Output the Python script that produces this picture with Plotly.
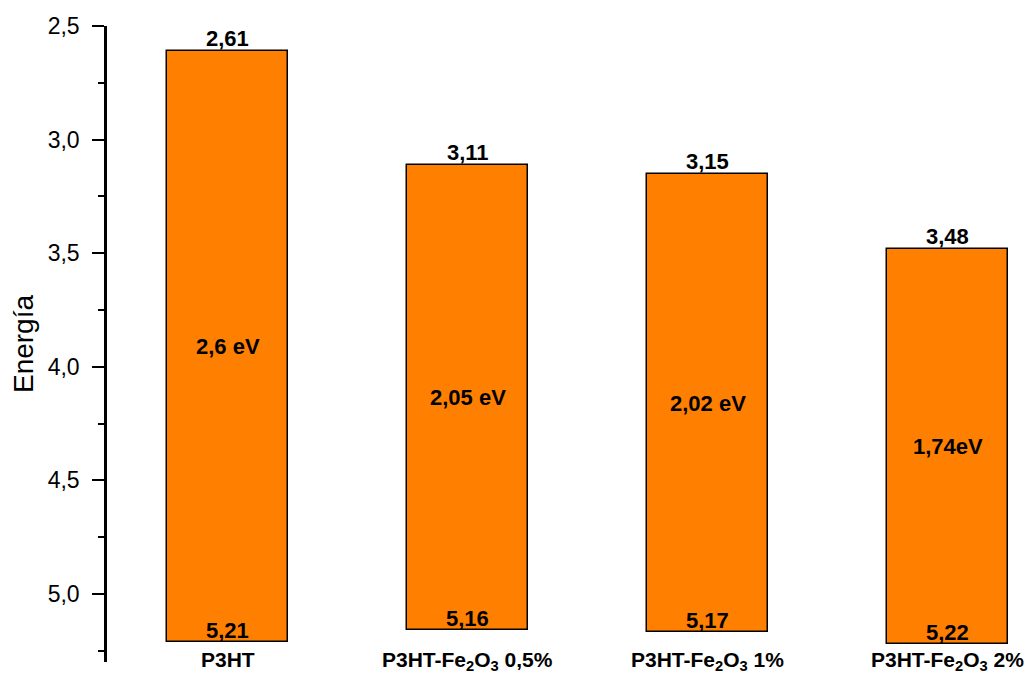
import plotly.graph_objects as go

categories = ["<b>P3HT</b>",
              "<b>P3HT-Fe<sub>2</sub>O<sub>3</sub> 0,5%</b>",
              "<b>P3HT-Fe<sub>2</sub>O<sub>3</sub> 1%</b>",
              "<b>P3HT-Fe<sub>2</sub>O<sub>3</sub> 2%</b>"]
lumo = [2.61, 3.11, 3.15, 3.48]
homo = [5.21, 5.16, 5.17, 5.22]
gap_labels = ["2,6 eV", "2,05 eV", "2,02 eV", "1,74eV"]
y_ticks = [2.5, 3.0, 3.5, 4.0, 4.5, 5.0]

FONT = "Liberation Sans, Arial, sans-serif"
xs = list(range(len(categories)))

fig = go.Figure()
fig.add_trace(go.Bar(
    x=xs,
    y=[h - l for h, l in zip(homo, lumo)],
    base=lumo,
    width=0.504,
    marker=dict(color="#FF8000", line=dict(color="black", width=1.5)),
    hoverinfo="skip",
    showlegend=False,
))

def fmt(v):
    return f"{v:.2f}".replace(".", ",")

ann = []
for x, l, h, g, c in zip(xs, lumo, homo, gap_labels, categories):
    ann.append(dict(x=x, y=l, xref="x", yref="y", text=f"<b>{fmt(l)}</b>",
                    showarrow=False, yanchor="bottom", yshift=-2,
                    font=dict(family=FONT, size=22, color="black")))
    ann.append(dict(x=x, y=h, xref="x", yref="y", text=f"<b>{fmt(h)}</b>",
                    showarrow=False, yanchor="bottom", yshift=-3,
                    font=dict(family=FONT, size=22, color="black")))
    ann.append(dict(x=x, y=(l + h) / 2, xref="x", yref="y", text=f"<b>{g}</b>",
                    showarrow=False, yanchor="middle",
                    font=dict(family=FONT, size=22, color="black")))
    ann.append(dict(x=x, y=5.228, xref="x", yref="y", text=c,
                    showarrow=False, yanchor="top",
                    font=dict(family=FONT, size=21, color="black")))

# page body has an 8px default margin; compensate so plot lands at the right pixels
fig.update_layout(
    width=1028, height=667,
    margin=dict(l=99, r=0, t=18, b=13, autoexpand=False),
    plot_bgcolor="white", paper_bgcolor="white",
    separators=",.",
    annotations=ann,
    bargap=0,
)
fig.update_xaxes(range=[-0.502, 3.367], visible=False, automargin=False)
fig.update_yaxes(
    range=[5.30, 2.5], automargin=False,
    tickvals=y_ticks, tickformat=".1f",
    showline=True, linewidth=2.5, linecolor="black",
    ticks="outside", ticklen=12, tickwidth=2, tickcolor="black",
    minor=dict(dtick=0.25, ticks="outside", ticklen=6, tickwidth=2, tickcolor="black", showgrid=False),
    showgrid=False, zeroline=False,
    tickfont=dict(family=FONT, size=23, color="black"),
    ticklabelstandoff=8,
    title=dict(text="Energía", font=dict(family=FONT, size=28, color="black"), standoff=10),
)

fig.write_html("out.html")
